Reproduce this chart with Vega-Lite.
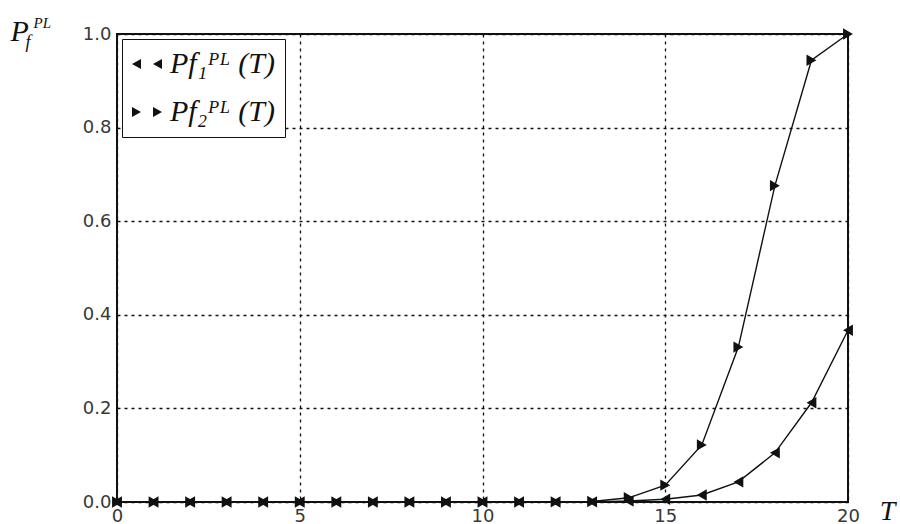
{
  "$schema": "https://vega.github.io/schema/vega-lite/v6.json",
  "width": 731,
  "height": 468,
  "autosize": {"type": "none"},
  "padding": {"left": 117, "top": 34, "right": 52, "bottom": 22},
  "background": "white",
  "config": {
    "view": {"stroke": "#111", "strokeWidth": 2},
    "axis": {
      "labelFont": "DejaVu Sans",
      "labelFontSize": 18,
      "labelColor": "#383838",
      "labelFlush": false,
      "ticks": false,
      "domain": false,
      "grid": true,
      "gridColor": "#111",
      "gridDash": [3, 4],
      "gridWidth": 1.3,
      "gridOpacity": 1,
      "titleFont": "Liberation Serif",
      "titleFontStyle": "italic",
      "titleFontWeight": "normal",
      "titleColor": "#111"
    }
  },
  "data": {
    "values": [
      {"T": 0, "series": "f1", "P": 0}, {"T": 1, "series": "f1", "P": 0}, {"T": 2, "series": "f1", "P": 0},
      {"T": 3, "series": "f1", "P": 0}, {"T": 4, "series": "f1", "P": 0}, {"T": 5, "series": "f1", "P": 0},
      {"T": 6, "series": "f1", "P": 0}, {"T": 7, "series": "f1", "P": 0}, {"T": 8, "series": "f1", "P": 0},
      {"T": 9, "series": "f1", "P": 0}, {"T": 10, "series": "f1", "P": 0}, {"T": 11, "series": "f1", "P": 0},
      {"T": 12, "series": "f1", "P": 0}, {"T": 13, "series": "f1", "P": 0.0003}, {"T": 14, "series": "f1", "P": 0.002},
      {"T": 15, "series": "f1", "P": 0.006}, {"T": 16, "series": "f1", "P": 0.015}, {"T": 17, "series": "f1", "P": 0.043},
      {"T": 18, "series": "f1", "P": 0.105}, {"T": 19, "series": "f1", "P": 0.212}, {"T": 20, "series": "f1", "P": 0.367},
      {"T": 0, "series": "f2", "P": 0}, {"T": 1, "series": "f2", "P": 0}, {"T": 2, "series": "f2", "P": 0},
      {"T": 3, "series": "f2", "P": 0}, {"T": 4, "series": "f2", "P": 0}, {"T": 5, "series": "f2", "P": 0},
      {"T": 6, "series": "f2", "P": 0}, {"T": 7, "series": "f2", "P": 0}, {"T": 8, "series": "f2", "P": 0},
      {"T": 9, "series": "f2", "P": 0}, {"T": 10, "series": "f2", "P": 0}, {"T": 11, "series": "f2", "P": 0},
      {"T": 12, "series": "f2", "P": 0.0003}, {"T": 13, "series": "f2", "P": 0.001}, {"T": 14, "series": "f2", "P": 0.009},
      {"T": 15, "series": "f2", "P": 0.036}, {"T": 16, "series": "f2", "P": 0.122}, {"T": 17, "series": "f2", "P": 0.331},
      {"T": 18, "series": "f2", "P": 0.676}, {"T": 19, "series": "f2", "P": 0.944}, {"T": 20, "series": "f2", "P": 1.0}
    ]
  },
  "layer": [
    {
      "encoding": {
        "x": {
          "field": "T", "type": "quantitative",
          "scale": {"domain": [0, 20], "nice": false, "zero": false},
          "axis": {
            "values": [0, 5, 10, 15, 20],
            "labelPadding": 5,
            "title": "T",
            "titleFontSize": 28,
            "titleX": 770,
            "titleY": 17,
            "titleAlign": "center",
            "titleBaseline": "alphabetic"
          }
        },
        "y": {
          "field": "P", "type": "quantitative",
          "scale": {"domain": [0, 1], "nice": false},
          "axis": {
            "values": [0, 0.2, 0.4, 0.6, 0.8, 1.0],
            "format": ".1f",
            "labelPadding": 6,
            "title": "P",
            "titleFontSize": 30,
            "titleAngle": 0,
            "titleX": -107,
            "titleY": 6,
            "titleAlign": "left",
            "titleBaseline": "alphabetic"
          }
        }
      },
      "layer": [
        {
          "mark": {"type": "line", "color": "#111", "strokeWidth": 1.4},
          "encoding": {"detail": {"field": "series"}}
        },
        {
          "transform": [{"filter": "datum.series == 'f1'"}],
          "mark": {"type": "point", "shape": "triangle-left", "filled": true, "color": "#111", "opacity": 1, "size": 130}
        },
        {
          "transform": [{"filter": "datum.series == 'f2'"}],
          "mark": {"type": "point", "shape": "triangle-right", "filled": true, "color": "#111", "opacity": 1, "size": 130}
        },
        {
          "mark": {"type": "point", "filled": true, "color": "#111", "opacity": 0, "size": 1},
          "encoding": {
            "shape": {
              "field": "series", "type": "nominal",
              "scale": {
                "domain": ["f1", "f2"],
                "range": [
                  "M-1,0L-0.4,-0.34L-0.4,0.34Z M0.4,0L1,-0.34L1,0.34Z",
                  "M-0.4,0L-1,-0.34L-1,0.34Z M1,0L0.4,-0.34L0.4,0.34Z"
                ]
              },
              "legend": {
                "title": null,
                "orient": "top-left",
                "offset": 5,
                "padding": 10,
                "strokeColor": "#111",
                "fillColor": "white",
                "symbolSize": 900,
                "symbolOpacity": 1,
                "symbolFillColor": "#111",
                "symbolStrokeColor": "#111",
                "symbolStrokeWidth": 0,
                "rowPadding": 18,
                "labelOffset": 8,
                "labelFont": "Liberation Serif",
                "labelFontStyle": "italic",
                "labelFontSize": 30,
                "labelColor": "#111",
                "labelExpr": "datum.value == 'f1' ? 'Pf₁ᴾᴸ (T)' : 'Pf₂ᴾᴸ (T)'"
              }
            }
          }
        }
      ]
    },
    {
      "mark": {"type": "line", "opacity": 0},
      "encoding": {
        "detail": {"field": "series"},
        "x": {
          "field": "T", "type": "quantitative",
          "scale": {"domain": [0, 20], "nice": false, "zero": false},
          "axis": {
            "orient": "top", "labels": false, "grid": false,
            "title": "PL",
            "titleFontSize": 15,
            "titleX": -84,
            "titleY": -7,
            "titleAlign": "left",
            "titleBaseline": "alphabetic"
          }
        },
        "y": {
          "field": "P", "type": "quantitative",
          "scale": {"domain": [0, 1], "nice": false},
          "axis": {
            "orient": "right", "labels": false, "grid": false,
            "title": "f",
            "titleFontSize": 18,
            "titleAngle": 0,
            "titleX": -823,
            "titleY": 13,
            "titleAlign": "left",
            "titleBaseline": "alphabetic"
          }
        }
      }
    }
  ],
  "resolve": {"scale": {"x": "independent", "y": "independent"}}
}
